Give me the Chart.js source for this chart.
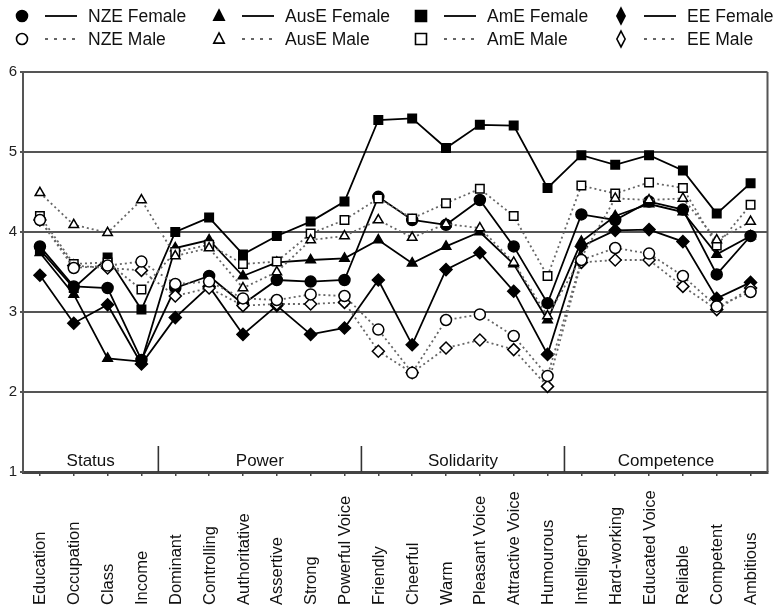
<!DOCTYPE html>
<html><head><meta charset="utf-8">
<script src="https://cdn.jsdelivr.net/npm/chart.js@4.4.0/dist/chart.umd.min.js"></script>
<style>html,body{margin:0;padding:0;background:#fff;}#wrap{width:775px;height:608px;position:relative;}</style>
</head><body><div id="wrap"><canvas id="c"></canvas></div>
<script>
const categories = ['Education','Occupation','Class','Income','Dominant','Controlling','Authoritative','Assertive','Strong','Powerful Voice','Friendly','Cheerful','Warm','Pleasant Voice','Attractive Voice','Humourous','Intelligent','Hard-working','Educated Voice','Reliable','Competent','Ambitious'];
const groupNames = ['Status','Power','Solidarity','Competence'];
const groupSizes = [4,6,6,6];
const yTicks = [1,2,3,4,5,6];

const nzeFemale  = [3.82,3.32,3.30,2.40, 3.30,3.45,3.10,3.40,3.38,3.40, 4.44,4.15,4.09,4.40,3.82,3.11, 4.22,4.15,4.38,4.28,3.47,3.95];
const nzeMale    = [4.15,3.55,3.58,3.63, 3.35,3.38,3.17,3.15,3.22,3.20, 2.78,2.24,2.90,2.97,2.70,2.20, 3.65,3.80,3.73,3.45,3.07,3.25];
const auseFemale = [3.74,3.22,2.42,2.38, 3.80,3.90,3.45,3.62,3.65,3.67, 3.90,3.61,3.82,4.00,3.60,2.90, 3.88,4.20,4.35,4.25,3.72,3.95];
const auseMale   = [4.49,4.09,3.99,4.40, 3.70,3.80,3.30,3.50,3.90,3.95, 4.15,3.93,4.10,4.05,3.62,2.95, 3.68,4.42,4.40,4.42,3.90,4.13];
const ameFemale  = [3.78,3.30,3.68,3.03, 4.00,4.18,3.72,3.95,4.13,4.38, 5.40,5.42,5.05,5.34,5.33,4.55, 4.96,4.84,4.96,4.77,4.23,4.61];
const ameMale    = [4.20,3.60,3.62,3.28, 3.75,3.84,3.60,3.63,3.98,4.15, 4.42,4.17,4.36,4.54,4.20,3.45, 4.58,4.48,4.62,4.55,3.83,4.34];
const eeFemale   = [3.46,2.86,3.09,2.35, 2.93,3.32,2.72,3.08,2.72,2.80, 3.40,2.59,3.53,3.74,3.26,2.47, 3.82,4.02,4.03,3.88,3.17,3.37];
const eeMale     = [4.15,3.58,3.55,3.52, 3.20,3.30,3.08,3.10,3.10,3.12, 2.51,2.24,2.55,2.65,2.53,2.07, 3.62,3.65,3.65,3.32,3.03,3.30];

const FONT = "'Liberation Sans', Arial, sans-serif";
const maleDash = [2,3];
const maleColor = '#666';

function ds(label, data, shape, female){
  return {
    label, data,
    borderColor: female ? '#000' : maleColor,
    borderWidth: female ? 1.8 : 1.8,
    borderDash: female ? [] : maleDash,
    pointStyle: shape,
    pointRadius: shape==='rect' ? 6 : (shape==='rectRot' ? 6 : 5.5),
    pointBorderWidth: 1.5,
    pointBorderColor: '#000',
    pointBackgroundColor: female ? '#000' : '#fff',
    tension: 0, fill: false
  };
}
const datasets = [
  ds('NZE Male', nzeMale, 'circle', false),
  ds('AusE Male', auseMale, 'triangle', false),
  ds('AmE Male', ameMale, 'rect', false),
  ds('EE Male', eeMale, 'rectRot', false),
  ds('NZE Female', nzeFemale, 'circle', true),
  ds('AusE Female', auseFemale, 'triangle', true),
  ds('AmE Female', ameFemale, 'rect', true),
  ds('EE Female', eeFemale, 'rectRot', true)
];

function drawShape(ctx, shape, x, y, r, filled){
  ctx.save();
  ctx.beginPath();
  if(shape==='circle'){ ctx.arc(x,y,r,0,Math.PI*2); }
  else if(shape==='triangle'){ ctx.moveTo(x,y-r*1.1); ctx.lineTo(x+r*0.95,y+r*0.75); ctx.lineTo(x-r*0.95,y+r*0.75); ctx.closePath(); }
  else if(shape==='rect'){ ctx.rect(x-r,y-r,2*r,2*r); }
  else { ctx.moveTo(x,y-r*1.45); ctx.lineTo(x+r*0.75,y); ctx.lineTo(x,y+r*1.45); ctx.lineTo(x-r*0.75,y); ctx.closePath(); }
  ctx.fillStyle = filled ? '#000' : '#fff';
  ctx.fill();
  ctx.lineWidth = 1.6; ctx.strokeStyle = '#000'; ctx.stroke();
  ctx.restore();
}

const decor = {
  id: 'decor',
  afterDraw(chart){
    const ctx = chart.ctx, ca = chart.chartArea, xs = chart.scales.x;
    ctx.save();
    ctx.strokeStyle = '#555'; ctx.lineWidth = 2;
    ctx.beginPath(); ctx.moveTo(ca.right, ca.top); ctx.lineTo(ca.right, ca.bottom); ctx.stroke();
    // group separators and labels
    let start = 0;
    const step = xs.getPixelForValue(1) - xs.getPixelForValue(0);
    ctx.fillStyle = '#111'; ctx.font = '17px ' + FONT; ctx.textAlign = 'center'; ctx.textBaseline = 'middle';
    groupSizes.forEach((n, gi) => {
      const x0 = xs.getPixelForValue(start) - step/2;
      const x1 = xs.getPixelForValue(start+n-1) + step/2;
      if (gi > 0) {
        ctx.strokeStyle = '#333'; ctx.lineWidth = 1.6;
        ctx.beginPath(); ctx.moveTo(x0, ca.bottom - 26); ctx.lineTo(x0, ca.bottom); ctx.stroke();
      }
      ctx.fillText(groupNames[gi], (x0+x1)/2, ca.bottom - 11);
      start += n;
    });
    // x labels rotated, bottom-aligned
    ctx.font = '16.5px ' + FONT; ctx.textAlign = 'left'; ctx.textBaseline = 'middle'; ctx.fillStyle = '#111';
    categories.forEach((c, i) => {
      const x = xs.getPixelForValue(i);
      ctx.save(); ctx.translate(x + 1, 605); ctx.rotate(-Math.PI/2); ctx.fillText(c, 0, 0); ctx.restore();
    });
    // legend
    const cols = [22, 219, 421, 621];
    const rows = [16, 39];
    const order = [[4,5,6,7],[0,1,2,3]];
    ctx.font = '17.5px ' + FONT; ctx.textBaseline = 'middle'; ctx.textAlign = 'left'; ctx.fillStyle = '#111';
    rows.forEach((ry, ri) => {
      order[ri].forEach((di, ci) => {
        const d = datasets[di], x = cols[ci];
        const female = ri === 0;
        drawShape(ctx, d.pointStyle, x, ry, 5.5, female);
        ctx.save();
        ctx.strokeStyle = female ? '#000' : maleColor; ctx.lineWidth = 1.8;
        ctx.setLineDash(female ? [] : [3,6]);
        ctx.beginPath(); ctx.moveTo(x+23, ry); ctx.lineTo(x+55, ry); ctx.stroke();
        ctx.restore();
        ctx.fillText(d.label, x+66, ry+1);
      });
    });
    ctx.restore();
  }
};

new Chart(document.getElementById('c'), {
  type: 'line',
  data: { labels: categories, datasets },
  options: {
    responsive: true, maintainAspectRatio: false, animation: false,
    layout: { padding: { top: 72, right: 4, left: 2, bottom: 0 } },
    plugins: { legend: { display: false }, tooltip: { enabled: false } },
    scales: {
      x: {
        type: 'category', offset: true,
        grid: { display: true, drawOnChartArea: false, drawTicks: true, tickLength: 4, offset: false, color: '#444', lineWidth: 1.5 },
        border: { display: true, color: '#444', width: 3 },
        ticks: { display: false },
        afterFit(s){ s.height = 136; }
      },
      y: {
        min: 1, max: 6,
        afterBuildTicks(s){ s.ticks = yTicks.map(v => ({ value: v })); },
        grid: { color: '#555', lineWidth: 2, drawTicks: true, tickLength: 3 },
        border: { display: true, color: '#555', width: 2 },
        ticks: { font: { size: 15, family: FONT }, color: '#222', padding: 3 },
        afterFit(s){ s.width = 21; }
      }
    }
  },
  plugins: [decor]
});
</script></body></html>
